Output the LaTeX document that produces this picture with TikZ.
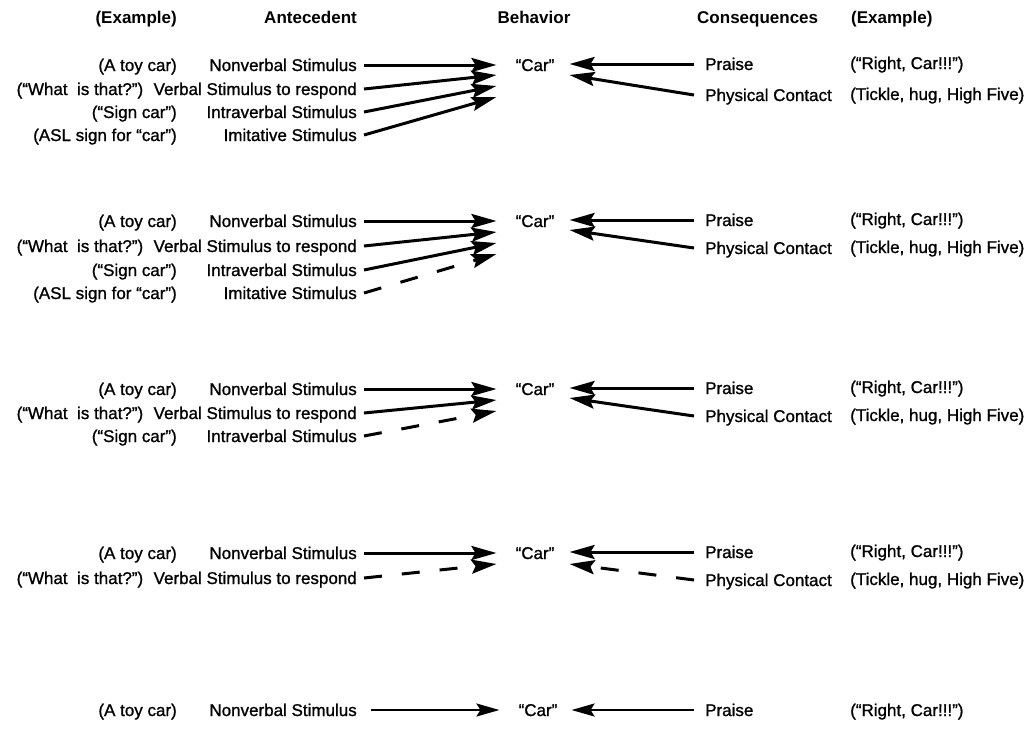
\documentclass[tikz,border=0pt]{standalone}
\usepackage{fontspec}
\setmainfont{Liberation Sans}
\newfontfamily\scanfont{Liberation Sans}[FakeBold=1.1]
\usetikzlibrary{arrows.meta,positioning}

\begin{document}
\begin{tikzpicture}[x=1pt,y=-1pt,
  every node/.style={inner sep=0pt,text height=12pt,text depth=0pt,font=\fontsize{17}{20}\scanfont},
  head/.style={font=\fontsize{17}{20}\selectfont\bfseries},
  ex/.style={anchor=east},
  ante/.style={anchor=east},
  cons/.style={anchor=west},
  cex/.style={anchor=west},
  beh/.style={anchor=center},
  link/.style={line width=3pt,-{Stealth[length=25pt,width=14pt,inset=4pt]}},
  weak/.style={link,dash pattern=on 18pt off 20pt},
  thin/.style={line width=2pt,-{Stealth[length=23pt,width=13pt,inset=4pt]}}]
\useasboundingbox (0,0) rectangle (1033,729);
% column heads
\node[head,anchor=east] (exl) at (177,17) {(Example)};
\node[head,anchor=east] (ant) at (357,17) {Antecedent};
\node[head] (beh) at (534,17) {Behavior};
\node[head,anchor=west] (con) at (697,17) {Consequences};
\node[head,anchor=west] (exr) at (851,17) {(Example)};
% first row: all four antecedents
\node[ex] (toy1) at (177,65) {(A toy car)};
\node[ante] (nv1) at (357,65) {Nonverbal Stimulus};
\node[ante] (vb1) at (357,89) {Verbal Stimulus to respond};
\node[ex] (what1) [left = 10pt of vb1] {(“What\ \ is that?”)};
\node[ex] (sign1) at (177,112) {(“Sign car”)};
\node[ante] (iv1) at (357,112) {Intraverbal Stimulus};
\node[ex] (asl1) at (177,135) {(ASL sign for “car”)};
\node[ante] (im1) at (357,135) {Imitative Stimulus};
\node[beh] (car1) at (535,65) {“Car”};
\node[cons] (pr1) at (705,64) {Praise};
\node[cons] (pc1) at (705,95) {Physical Contact};
\node[cex] (rc1) at (850,63) {(“Right, Car!!!”)};
\node[cex] (tk1) at (850,94) {(Tickle, hug, High Five)};
\draw[link] ([xshift=7pt]nv1.east) -- ([xshift=-19pt]car1.west);
\draw[link] ([xshift=7pt]vb1.east) -- ([xshift=-19pt,yshift=-10pt]car1.west);
\draw[link] ([xshift=7pt]iv1.east) -- ([xshift=-19pt,yshift=-21pt]car1.west);
\draw[link] ([xshift=7pt]im1.east) -- ([xshift=-19pt,yshift=-32pt]car1.west);
\draw[link] ([xshift=-11pt]pr1.west) -- ([xshift=15pt,yshift=1pt]car1.east);
\draw[link] ([xshift=-11pt]pc1.west) -- ([xshift=15pt,yshift=-10pt]car1.east);
% second row: imitative fading
\node[ex] (toy2) at (177,221) {(A toy car)};
\node[ante] (nv2) at (357,221) {Nonverbal Stimulus};
\node[ante] (vb2) at (357,246) {Verbal Stimulus to respond};
\node[ex] (what2) [left = 10pt of vb2] {(“What\ \ is that?”)};
\node[ex] (sign2) at (177,270) {(“Sign car”)};
\node[ante] (iv2) at (357,270) {Intraverbal Stimulus};
\node[ex] (asl2) at (177,293) {(ASL sign for “car”)};
\node[ante] (im2) at (357,293) {Imitative Stimulus};
\node[beh] (car2) at (535,221) {“Car”};
\node[cons] (pr2) at (705,220) {Praise};
\node[cons] (pc2) at (705,248) {Physical Contact};
\node[cex] (rc2) at (850,219) {(“Right, Car!!!”)};
\node[cex] (tk2) at (850,247) {(Tickle, hug, High Five)};
\draw[link] ([xshift=7pt]nv2.east) -- ([xshift=-19pt]car2.west);
\draw[link] ([xshift=7pt]vb2.east) -- ([xshift=-19pt,yshift=-11pt]car2.west);
\draw[link] ([xshift=7pt]iv2.east) -- ([xshift=-19pt,yshift=-22pt]car2.west);
\draw[weak] ([xshift=7pt]im2.east) -- ([xshift=-19pt,yshift=-33pt]car2.west);
\draw[link] ([xshift=-11pt]pr2.west) -- ([xshift=15pt,yshift=1pt]car2.east);
\draw[link] ([xshift=-11pt]pc2.west) -- ([xshift=15pt,yshift=-9pt]car2.east);
% third row: intraverbal fading
\node[ex] (toy3) at (177,389) {(A toy car)};
\node[ante] (nv3) at (357,389) {Nonverbal Stimulus};
\node[ante] (vb3) at (357,413) {Verbal Stimulus to respond};
\node[ex] (what3) [left = 10pt of vb3] {(“What\ \ is that?”)};
\node[ex] (sign3) at (177,436) {(“Sign car”)};
\node[ante] (iv3) at (357,436) {Intraverbal Stimulus};
\node[beh] (car3) at (535,389) {“Car”};
\node[cons] (pr3) at (705,388) {Praise};
\node[cons] (pc3) at (705,416) {Physical Contact};
\node[cex] (rc3) at (850,387) {(“Right, Car!!!”)};
\node[cex] (tk3) at (850,415) {(Tickle, hug, High Five)};
\draw[link] ([xshift=7pt]nv3.east) -- ([xshift=-19pt]car3.west);
\draw[link] ([xshift=7pt]vb3.east) -- ([xshift=-19pt,yshift=-11pt]car3.west);
\draw[weak] ([xshift=7pt]iv3.east) -- ([xshift=-19pt,yshift=-22pt]car3.west);
\draw[link] ([xshift=-11pt]pr3.west) -- ([xshift=15pt,yshift=1pt]car3.east);
\draw[link] ([xshift=-11pt]pc3.west) -- ([xshift=15pt,yshift=-9pt]car3.east);
% fourth row: verbal and contact fading
\node[ex] (toy4) at (177,553) {(A toy car)};
\node[ante] (nv4) at (357,553) {Nonverbal Stimulus};
\node[ante] (vb4) at (357,578) {Verbal Stimulus to respond};
\node[ex] (what4) [left = 10pt of vb4] {(“What\ \ is that?”)};
\node[beh] (car4) at (535,553) {“Car”};
\node[cons] (pr4) at (705,552) {Praise};
\node[cons] (pc4) at (705,580) {Physical Contact};
\node[cex] (rc4) at (850,551) {(“Right, Car!!!”)};
\node[cex] (tk4) at (850,579) {(Tickle, hug, High Five)};
\draw[link] ([xshift=7pt]nv4.east) -- ([xshift=-19pt]car4.west);
\draw[weak] ([xshift=7pt]vb4.east) -- ([xshift=-19pt,yshift=-11pt]car4.west);
\draw[link] ([xshift=-11pt]pr4.west) -- ([xshift=15pt,yshift=1pt]car4.east);
\draw[weak] ([xshift=-11pt]pc4.west) -- ([xshift=15pt,yshift=-11pt]car4.east);
% last row: nonverbal only
\node[ex] (toy5) at (177,710) {(A toy car)};
\node[ante] (nv5) at (357,710) {Nonverbal Stimulus};
\node[beh] (car5) at (538,710) {“Car”};
\node[cons] (pr5) at (705,710) {Praise};
\node[cex] (rc5) at (850,710) {(“Right, Car!!!”)};
\draw[thin] ([xshift=14pt]nv5.east) -- ([xshift=-19pt]car5.west);
\draw[thin] ([xshift=-11pt]pr5.west) -- ([xshift=14pt]car5.east);
\end{tikzpicture}
\end{document}
